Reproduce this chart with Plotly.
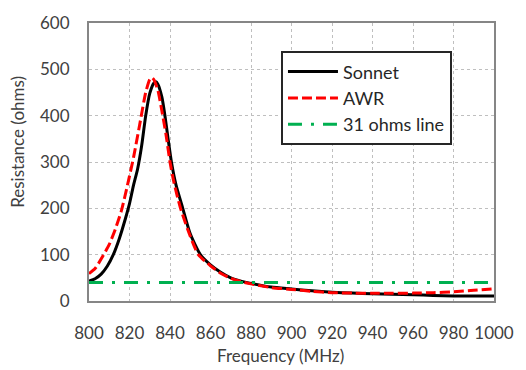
import plotly.graph_objects as go

sonnet_f = [800, 803, 806, 809, 812, 815, 818, 820, 822, 824, 826, 828, 830, 832, 833, 834, 836, 837.5, 839, 840.7, 843, 846.3, 850, 855, 860, 865, 870, 875, 880, 890, 900, 910, 920, 930, 940, 950, 960, 970, 980, 990, 1000]
sonnet_r = [43, 48, 58, 75, 100, 135, 178, 210, 250, 285, 335, 400, 448, 470, 473, 468, 440, 400, 352, 300, 250, 200, 145, 100, 78, 62, 50, 43, 38, 30, 26, 22, 19, 17, 15.5, 14.5, 13.5, 12, 11, 11, 11]

awr_f = [800, 803, 807, 810, 813, 816, 819, 822, 825, 828, 830, 831, 832, 834, 836, 838, 840, 842, 845.2, 850, 854, 860, 865, 870, 875, 880, 890, 900, 910, 920, 930, 940, 950, 960, 970, 980, 990, 1000]
awr_r = [59, 70, 98, 122, 155, 195, 250, 310, 380, 450, 478, 482, 478, 455, 410, 360, 300, 255, 200, 140, 100, 76, 60, 49, 42, 37, 29, 25, 21, 18, 17, 16.5, 16.5, 17, 18, 20, 23, 26]

line_f = [800, 1000]
line_r = [40, 40]

x_ticks = [800, 820, 840, 860, 880, 900, 920, 940, 960, 980, 1000]
y_ticks = [0, 100, 200, 300, 400, 500, 600]

FONT = "Lato"

fig = go.Figure()
fig.add_trace(go.Scatter(x=sonnet_f, y=sonnet_r, mode="lines", name="Sonnet",
                         line=dict(color="#000000", width=3, shape="spline", smoothing=0.6)))
fig.add_trace(go.Scatter(x=awr_f, y=awr_r, mode="lines", name="AWR",
                         line=dict(color="#ff0000", width=3, dash="10px,4px", shape="spline", smoothing=0.6)))
fig.add_trace(go.Scatter(x=line_f, y=line_r, mode="lines", name="31 ohms line",
                         line=dict(color="#00b050", width=3, dash="14px,9px,3px,9px")))

axis_common = dict(
    showgrid=True, gridcolor="#bfbfbf", griddash="dot", gridwidth=1,
    showline=True, linecolor="#868686", linewidth=2, mirror=True,
    ticks="", zeroline=False,
    tickfont=dict(family=FONT, size=17, color="#404040"),
)

fig.update_xaxes(range=[800, 1000], tickvals=x_ticks, ticklabelstandoff=16, **axis_common)
fig.update_yaxes(range=[0, 600], tickvals=y_ticks, ticklabelstandoff=14, **axis_common)

fig.update_layout(
    width=526, height=370,
    margin=dict(l=88.5, r=21, t=14.7, b=69.3),
    paper_bgcolor="white", plot_bgcolor="white",
    font=dict(family=FONT, color="#404040"),
    showlegend=True,
    legend=dict(x=0.474, y=0.898, xanchor="left", yanchor="top",
                bgcolor="white", bordercolor="#262626", borderwidth=2,
                font=dict(family=FONT, size=18, color="#262626"),
                tracegroupgap=0, itemwidth=50,
                entrywidth=150, entrywidthmode="pixels"),
    annotations=[
        dict(text="Frequency (MHz)", xref="paper", yref="paper", x=0.473, y=-0.195,
             xanchor="center", yanchor="middle", showarrow=False,
             font=dict(family=FONT, size=17, color="#404040")),
        dict(text="Resistance (ohms)", xref="paper", yref="paper", x=-0.175, y=0.573,
             xanchor="center", yanchor="middle", showarrow=False, textangle=-90,
             font=dict(family=FONT, size=17, color="#404040")),
    ],
)

fig.write_html("out.html")
